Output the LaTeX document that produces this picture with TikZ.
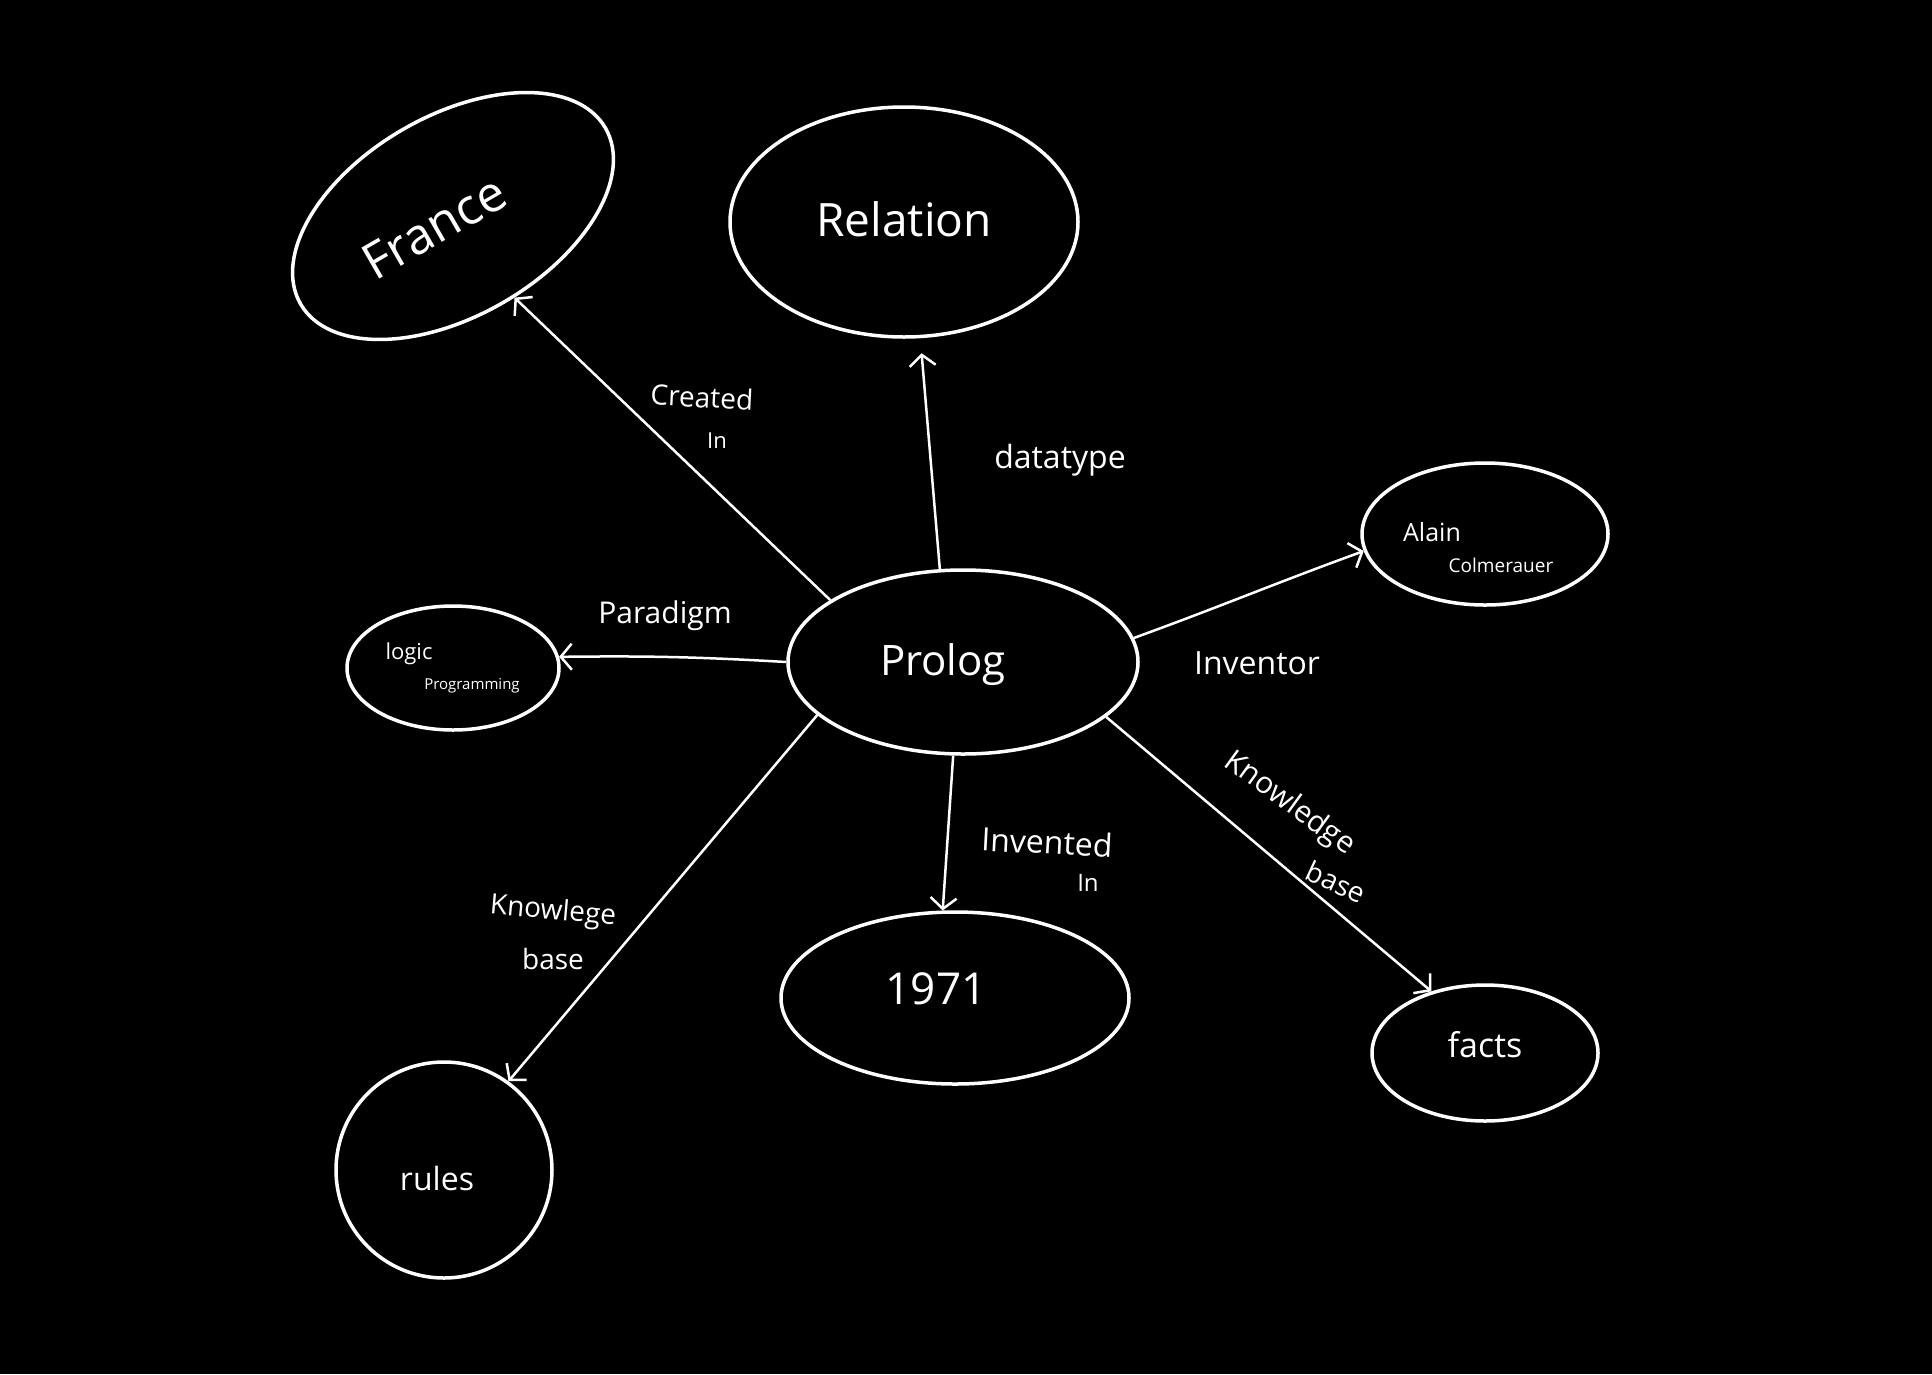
\documentclass[tikz,border=0pt]{standalone}
\usepackage{fontspec}
\setmainfont{Open Sans}
\usetikzlibrary{arrows.meta,shapes.geometric}
\newcommand{\placetext}[3]{\raisebox{#2}[0pt][0pt]{\makebox[0pt]{\hspace*{#1}#3}}}
\newcommand{\fsz}[1]{\fontsize{#1}{#1}\selectfont}
\begin{document}
\begin{tikzpicture}[x=1pt,y=-1pt,
  bubble/.style={draw=white,line width=3.5pt,ellipse,inner sep=0pt,text=white},
  conn/.style={draw=white,line width=2.5pt,-{Straight Barb[length=11pt,width=26pt]}},
  txt/.style={text=white,inner sep=0pt},
  fs/.style={font=\fontsize{#1}{#1}\selectfont}]
\fill[black] (0,0) rectangle (1932,1374);
\useasboundingbox (0,0) rectangle (1932,1374);
% bubbles with their texts
\node[bubble,minimum width=352pt,minimum height=200pt,rotate=30] (france) at (453,216)
  {\placetext{-44pt}{-18pt}{\fsz{50}France}};
\node[bubble,minimum width=348pt,minimum height=230pt] (relation) at (904,222)
  {\placetext{0pt}{-14.6pt}{\fsz{46}Relation}};
\node[bubble,minimum width=350pt,minimum height=184pt] (prolog) at (963,662)
  {\placetext{-40pt}{-13.3pt}{\fsz{42}Prolog}};
\node[bubble,minimum width=246pt,minimum height=142pt] (alain) at (1485,534)
  {\placetext{-106pt}{-7pt}{\fsz{25}Alain}\placetext{32pt}{-38.8pt}{\fsz{19}Colmerauer}};
\node[bubble,minimum width=212pt,minimum height=124pt] (logic) at (453,668)
  {\placetext{-88pt}{8.4pt}{\fsz{22}logic}\placetext{38pt}{-21.8pt}{\fsz{15}Programming}};
\node[bubble,minimum width=348pt,minimum height=172pt] (n1971) at (955,998)
  {\placetext{-38pt}{-6.8pt}{\fsz{44}1971}};
\node[bubble,minimum width=226pt,minimum height=136pt] (facts) at (1485,1053)
  {\placetext{0pt}{-4.2pt}{\fsz{34}facts}};
\node[bubble,minimum width=216pt,minimum height=216pt] (rules) at (444,1170)
  {\placetext{-14pt}{-20.5pt}{\fsz{32}rules}};
% labels
\node[txt,fs=28,rotate=-3] (lcreated) at (702,397) {Created};
\node[txt,fs=22] (lin1) at (717,441) {In};
\node[txt,fs=32] (ldata) at (1060,460) {datatype};
\node[txt,fs=30] (lpar) at (665,616) {Paradigm};
\node[txt,fs=32] (linv) at (1257,663) {Inventor};
\node[txt,fs=30,rotate=-36] (lkn1) at (1289,804) {Knowledge};
\node[txt,fs=28,rotate=-25] (lbase1) at (1336,882) {base};
\node[txt,fs=32,rotate=-3] (linvd) at (1047,842) {Invented};
\node[txt,fs=24] (lin2) at (1088,883) {In};
\node[txt,fs=28,rotate=-5] (lkn2) at (553,912) {Knowlege};
\node[txt,fs=28] (lbase2) at (553,959) {base};
% connectors
\draw[conn] (prolog.155) -- (france.-83);
\draw[conn,shorten >=15pt] (prolog.104) -- (relation.-82);
\draw[conn] (prolog.180) to[bend right=2] (logic.6);
\draw[conn] (prolog.8) to[out=20,in=200] (alain.188);
\draw[conn] (prolog.-96) -- (n1971.98);
\draw[conn] (prolog.-21) -- (facts.131);
\draw[conn] (prolog.200) -- (rules.54);
\end{tikzpicture}
\end{document}
